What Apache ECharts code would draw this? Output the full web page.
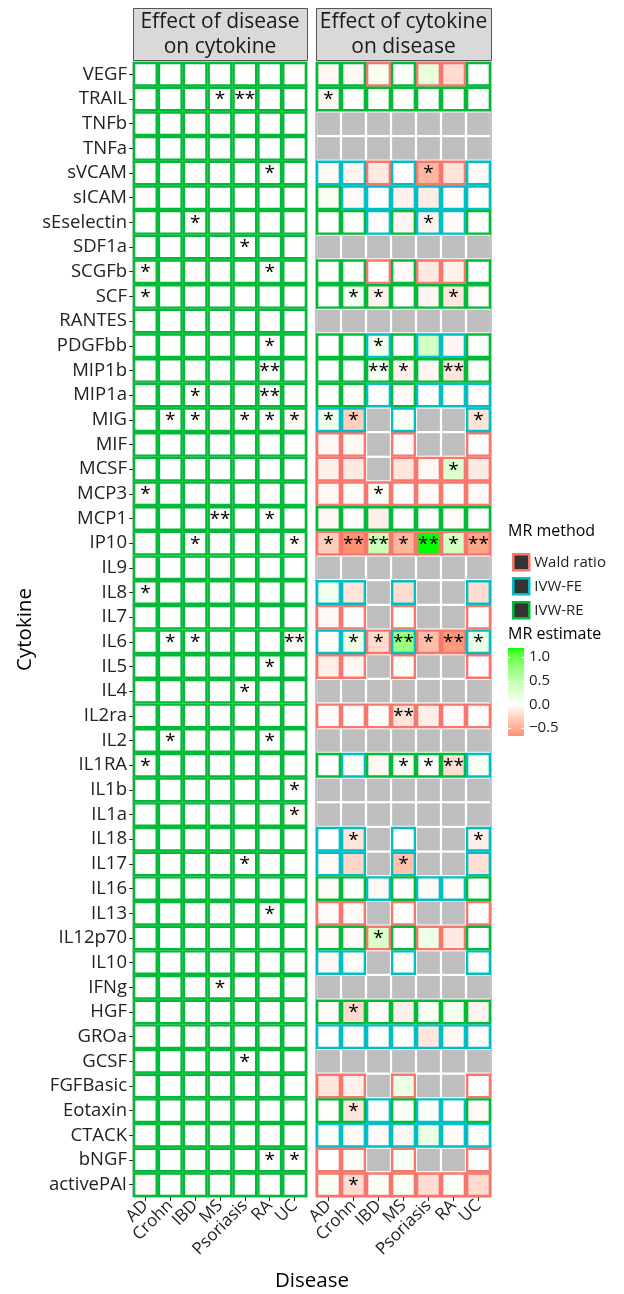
<!DOCTYPE html>
<html>
<head>
<meta charset="utf-8">
<script src="https://cdn.jsdelivr.net/npm/echarts@6/dist/echarts.min.js"></script>
<style>
  html, body { margin: 0; padding: 0; background: #ffffff; }
  #chart { width: 624px; height: 1294px; }
</style>
</head>
<body>
<div id="chart"></div>
<script>
// ---- Data ----------------------------------------------------------------
const diseases = ['AD', 'Crohn', 'IBD', 'MS', 'Psoriasis', 'RA', 'UC'];

const cytokines = ['VEGF', 'TRAIL', 'TNFb', 'TNFa', 'sVCAM', 'sICAM', 'sEselectin', 'SDF1a',
  'SCGFb', 'SCF', 'RANTES', 'PDGFbb', 'MIP1b', 'MIP1a', 'MIG', 'MIF', 'MCSF', 'MCP3', 'MCP1',
  'IP10', 'IL9', 'IL8', 'IL7', 'IL6', 'IL5', 'IL4', 'IL2ra', 'IL2', 'IL1RA', 'IL1b', 'IL1a',
  'IL18', 'IL17', 'IL16', 'IL13', 'IL12p70', 'IL10', 'IFNg', 'HGF', 'GROa', 'GCSF', 'FGFBasic',
  'Eotaxin', 'CTACK', 'bNGF', 'activePAI'];

const NA = null;

// Effect of disease on cytokine: MR estimates (rows = cytokines, columns = diseases)
const estDiseaseOnCytokine = [
  [0, 0, 0, 0, 0, 0, -0.02],
  [0, 0, 0, 0.01, -0.01, 0, 0],
  [0, 0.01, -0.02, -0.01, 0, 0, 0],
  [-0.01, 0, 0.01, 0, 0, 0, -0.02],
  [-0.01, 0, 0.01, 0, 0, 0.01, 0],
  [-0.02, -0.01, 0, 0, 0, 0, 0],
  [0, -0.01, 0.02, 0, 0, 0, -0.01],
  [0, -0.01, 0, 0, 0, 0, -0.01],
  [-0.04, 0, -0.02, 0.01, 0, 0.02, 0],
  [0.01, 0, 0.01, 0, 0.01, 0, 0],
  [0, 0.01, -0.01, -0.01, 0, -0.02, 0],
  [0, 0.01, 0, -0.01, 0, -0.01, -0.01],
  [-0.01, 0, 0.01, 0, 0, 0.02, 0],
  [-0.01, -0.01, 0.02, 0, 0, 0.02, -0.01],
  [0, -0.02, 0.02, -0.02, 0.01, 0.02, -0.04],
  [-0.01, 0, 0, 0, 0, 0, 0],
  [0, 0, 0, 0, 0, 0, 0],
  [-0.04, -0.01, 0, 0, 0, -0.02, 0],
  [0, 0, 0, 0.01, 0, 0.01, 0],
  [-0.01, -0.01, 0.01, 0, 0, 0, -0.03],
  [-0.01, 0, -0.01, -0.02, 0, 0, 0.01],
  [-0.02, 0, 0, 0, 0, 0, -0.01],
  [0.01, 0.01, 0.01, 0, 0, 0, -0.01],
  [0, -0.01, 0.02, 0, 0, 0, -0.04],
  [0, 0.01, 0.01, -0.01, 0, 0.02, 0],
  [-0.01, 0, 0, 0, 0, 0, -0.01],
  [0, 0.01, 0.01, 0, 0, 0.01, -0.01],
  [0, 0.01, -0.02, -0.01, 0, 0.01, 0.01],
  [-0.02, 0, 0, 0, 0, 0, 0],
  [0, 0, 0.01, -0.01, 0, 0, -0.02],
  [0, -0.01, 0, 0, 0, 0, -0.04],
  [0.01, 0, 0.01, -0.01, 0, 0, -0.01],
  [0, 0.01, 0, -0.01, -0.01, 0.01, 0],
  [0, 0.01, 0, 0, 0, 0, 0],
  [0, 0.01, 0, -0.01, 0, 0.02, 0],
  [0, 0, 0, 0, 0, 0, -0.01],
  [0, 0, 0, 0, 0, 0, -0.02],
  [0, 0, -0.01, -0.02, 0, 0.01, -0.01],
  [0, -0.01, 0, -0.01, 0, 0.01, 0],
  [-0.02, 0, 0.01, 0, 0, 0, 0],
  [0, 0, 0, 0, -0.01, 0, 0],
  [0, 0, 0, 0, 0, 0, 0],
  [0, 0, 0, -0.01, 0, 0, 0],
  [0, 0, 0, 0, 0, 0, 0],
  [0, 0, 0.01, -0.01, 0, -0.01, -0.02],
  [-0.03, 0, 0.01, 0, 0, 0, 0]
];

// Significance stars per cell: 0 = none, 1 = *, 2 = **
const sigDiseaseOnCytokine = [
  '0000000', '0001200', '0000000', '0000000', '0000010', '0000000', '0010000', '0000100',
  '1000010', '1000000', '0000000', '0000010', '0000020', '0010020', '0110111', '0000000',
  '0000000', '1000000', '0002010', '0010001', '0000000', '1000000', '0000000', '0110002',
  '0000010', '0000100', '0000000', '0100010', '1000000', '0000001', '0000001', '0000000',
  '0000100', '0000000', '0000010', '0000000', '0000000', '0001000', '0000000', '0000000',
  '0000100', '0000000', '0000000', '0000000', '0000011', '0000000'
];

// Effect of cytokine on disease: MR estimates (null = not estimated)
const estCytokineOnDisease = [
  [-0.05, -0.05, 0.08, 0.03, 0.2, -0.22, 0],
  [-0.05, 0, 0.04, 0.01, 0, -0.02, 0],
  [NA, NA, NA, NA, NA, NA, NA],
  [NA, NA, NA, NA, NA, NA, NA],
  [-0.04, -0.06, -0.13, 0, -0.45, -0.17, -0.03],
  [0.06, -0.03, 0, -0.08, -0.12, -0.03, 0],
  [0, 0.02, -0.02, -0.06, -0.08, -0.03, 0],
  [NA, NA, NA, NA, NA, NA, NA],
  [0.02, 0.03, 0, -0.03, -0.13, -0.08, 0],
  [0, 0.08, -0.09, 0, -0.06, -0.16, -0.02],
  [NA, NA, NA, NA, NA, NA, NA],
  [0.02, 0.03, 0.12, -0.02, 0.36, -0.06, 0.02],
  [0, 0.02, 0.08, -0.08, -0.06, -0.17, 0.03],
  [0, -0.02, 0, -0.03, 0, 0.03, -0.02],
  [0.12, -0.3, NA, 0.05, NA, NA, -0.18],
  [-0.04, -0.04, NA, -0.03, NA, NA, 0],
  [-0.1, -0.13, NA, -0.16, -0.05, 0.28, -0.13],
  [-0.05, -0.03, 0.04, 0, -0.03, 0.03, -0.03],
  [-0.05, -0.02, -0.1, -0.01, 0.02, -0.03, 0],
  [-0.3, -0.67, 0.42, -0.45, 1.19, 0.35, -0.55],
  [NA, NA, NA, NA, NA, NA, NA],
  [0.1, -0.17, NA, -0.22, NA, NA, -0.22],
  [-0.04, -0.02, NA, 0.02, NA, NA, 0],
  [0, 0.15, -0.22, 0.75, -0.4, -0.62, 0.15],
  [-0.1, -0.05, NA, 0.05, NA, NA, 0],
  [NA, NA, NA, NA, NA, NA, NA],
  [-0.02, 0, 0.03, -0.17, -0.11, -0.03, 0],
  [NA, NA, NA, NA, NA, NA, NA],
  [0, 0.05, -0.05, 0.08, 0, -0.2, 0.07],
  [NA, NA, NA, NA, NA, NA, NA],
  [NA, NA, NA, NA, NA, NA, NA],
  [0, -0.17, NA, -0.01, NA, NA, -0.11],
  [-0.03, -0.26, NA, -0.38, NA, NA, -0.2],
  [-0.03, 0.03, -0.05, -0.02, -0.03, -0.03, 0.03],
  [-0.03, -0.03, NA, 0.02, NA, NA, 0],
  [-0.03, -0.03, 0.32, 0, 0.14, -0.13, 0],
  [-0.05, -0.02, NA, 0.03, NA, NA, 0],
  [NA, NA, NA, NA, NA, NA, NA],
  [-0.03, -0.22, -0.02, -0.1, 0.08, 0.1, -0.07],
  [0, -0.02, 0.02, 0, -0.16, -0.05, -0.02],
  [NA, NA, NA, NA, NA, NA, NA],
  [-0.16, -0.08, NA, 0.15, NA, NA, 0],
  [0.03, -0.16, -0.02, 0.05, 0.03, -0.02, -0.03],
  [0.03, -0.03, -0.03, -0.05, 0.16, -0.03, 0],
  [0, 0.05, NA, 0.06, NA, NA, 0.03],
  [0.07, -0.22, 0.05, 0.07, -0.22, 0.04, -0.22]
];

// MR method per cell: W = Wald ratio, F = IVW-FE, R = IVW-RE, - = none
const methodCytokineOnDisease = [
  'RRWRWWR', 'RRRRRRR', '-------', '-------', 'FFWFWWF', 'RFFFFFF', 'RRFRFFR', '-------',
  'RRWRWWR', 'RRRRRRR', '-------', 'RRFRFFR', 'RRRRRRR', 'RRFRFFF', 'FF-F--F', 'WW-W--W',
  'WW-WWWW', 'WWWWWWW', 'RRRRRRR', 'WWWWWWW', '-------', 'FF-F--F', 'WW-W--W', 'FFWFWWF',
  'WW-W--W', '-------', 'WWWWWWW', '-------', 'RFRRRRF', '-------', '-------', 'FF-F--F',
  'FF-F--F', 'RRFRFFR', 'WW-W--W', 'RRWRWWR', 'FF-F--F', '-------', 'RRRRRRR', 'FFFFFFF',
  '-------', 'WW-W--W', 'RRFRFFR', 'FFFFFFF', 'WW-W--W', 'WWWWWWW'
];

const sigCytokineOnDisease = [
  '0000000', '1000000', '0000000', '0000000', '0000100', '0000000', '0000100', '0000000',
  '0000000', '0110010', '0000000', '0010000', '0021020', '0000000', '1100001', '0000000',
  '0000010', '0010000', '0000000', '1221212', '0000000', '0000000', '0000000', '0112121',
  '0000000', '0000000', '0002000', '0000000', '0001120', '0000000', '0000000', '0100001',
  '0001000', '0000000', '0000000', '0010000', '0000000', '0000000', '0100000', '0000000',
  '0000000', '0000000', '0100000', '0000000', '0000000', '0100000'
];

const panelTitles = ['Effect of disease\non cytokine', 'Effect of cytokine\non disease'];
const methodCodes = ['W', 'F', 'R'];
const methodNames = { W: 'Wald ratio', F: 'IVW-FE', R: 'IVW-RE' };
const estimateLimits = [-0.67, 1.19];
const estimateTicks = [1.0, 0.5, 0.0, -0.5];

// ---- Styling ---------------------------------------------------------------
const FONT = '"Open Sans", "Noto Sans", sans-serif';
const methodColors = { W: '#F8766D', F: '#00BFC4', R: '#00BA38' };
const NA_FILL = '#BEBEBE';
const LOW = [255, 0, 0], MID = [255, 255, 255], HIGH = [0, 255, 0];
const TILE = 0.91;
const BORDER_W = 2.4;

const PANEL_TOP = 62, PANEL_H = 1135;
const PANELS = [{ left: 133, width: 174 }, { left: 316, width: 175 }];

// Lab-space colour interpolation for the diverging estimate scale
function toLin(c) { c /= 255; return c <= 0.04045 ? c / 12.92 : Math.pow((c + 0.055) / 1.055, 2.4); }
function fromLin(v) {
  v = Math.max(0, Math.min(1, v));
  const s = v <= 0.0031308 ? 12.92 * v : 1.055 * Math.pow(v, 1 / 2.4) - 0.055;
  return Math.round(Math.max(0, Math.min(1, s)) * 255);
}
function rgb2lab(rgb) {
  const R = toLin(rgb[0]), G = toLin(rgb[1]), B = toLin(rgb[2]);
  const X = (0.4124 * R + 0.3576 * G + 0.1805 * B) / 0.95047;
  const Y = (0.2126 * R + 0.7152 * G + 0.0722 * B);
  const Z = (0.0193 * R + 0.1192 * G + 0.9505 * B) / 1.08883;
  const f = t => t > 0.008856 ? Math.cbrt(t) : 7.787 * t + 16 / 116;
  const fx = f(X), fy = f(Y), fz = f(Z);
  return [116 * fy - 16, 500 * (fx - fy), 200 * (fy - fz)];
}
function lab2rgb(lab) {
  const fy = (lab[0] + 16) / 116, fx = fy + lab[1] / 500, fz = fy - lab[2] / 200;
  const fi = t => t > 0.206893 ? t * t * t : (t - 16 / 116) / 7.787;
  const X = fi(fx) * 0.95047, Y = fi(fy), Z = fi(fz) * 1.08883;
  const R = 3.2406 * X - 1.5372 * Y - 0.4986 * Z;
  const G = -0.9689 * X + 1.8758 * Y + 0.0415 * Z;
  const B = 0.0557 * X - 0.2040 * Y + 1.0570 * Z;
  return 'rgb(' + fromLin(R) + ',' + fromLin(G) + ',' + fromLin(B) + ')';
}
const LAB_LOW = rgb2lab(LOW), LAB_MID = rgb2lab(MID), LAB_HIGH = rgb2lab(HIGH);
const EXTENT = Math.max(Math.abs(estimateLimits[0]), Math.abs(estimateLimits[1]));
function estimateColor(v) {
  const t = Math.min(1, Math.abs(v) / EXTENT);
  const end = v >= 0 ? LAB_HIGH : LAB_LOW;
  return lab2rgb([0, 1, 2].map(i => LAB_MID[i] + (end[i] - LAB_MID[i]) * t));
}

// ---- Series builders -------------------------------------------------------
function tileRenderer(border) {
  return function (params, api) {
    const c = api.coord([api.value(0), api.value(1)]);
    const sz = api.size([1, 1]);
    const w = sz[0] * TILE, h = sz[1] * TILE;
    const v = api.value(2);
    const stars = api.value(3);
    const children = [{
      type: 'rect',
      shape: { x: c[0] - w / 2, y: c[1] - h / 2, width: w, height: h },
      style: border
        ? { fill: estimateColor(v), stroke: border, lineWidth: BORDER_W }
        : { fill: NA_FILL, stroke: null }
    }];
    if (stars > 0) {
      children.push({
        type: 'text',
        x: c[0], y: c[1] + 1,
        style: { text: '*'.repeat(stars), fontSize: 19, fontFamily: FONT, fill: '#000',
                 align: 'center', verticalAlign: 'middle' }
      });
    }
    return { type: 'group', children: children };
  };
}

function cellItems(est, sig, methods, code) {
  const out = [];
  est.forEach((row, yi) => {
    row.forEach((v, xi) => {
      const m = methods ? methods[yi][xi] : 'R';
      if (code === '-' ? (v === null) : (v !== null && m === code)) {
        out.push([xi, yi, v === null ? 0 : v, Number(sig[yi][xi])]);
      }
    });
  });
  return out;
}

const series = [];
// Left panel: every estimate comes from IVW-RE
series.push({
  name: methodNames.R, type: 'custom', xAxisIndex: 0, yAxisIndex: 0,
  renderItem: tileRenderer(methodColors.R),
  data: cellItems(estDiseaseOnCytokine, sigDiseaseOnCytokine, null, 'R'),
  encode: { x: 0, y: 1 }, silent: true
});
// Right panel
series.push({
  name: 'NA', type: 'custom', xAxisIndex: 1, yAxisIndex: 1,
  renderItem: tileRenderer(null),
  data: cellItems(estCytokineOnDisease, sigCytokineOnDisease, methodCytokineOnDisease, '-'),
  encode: { x: 0, y: 1 }, silent: true
});
methodCodes.forEach(code => {
  series.push({
    name: methodNames[code], type: 'custom', xAxisIndex: 1, yAxisIndex: 1,
    renderItem: tileRenderer(methodColors[code]),
    data: cellItems(estCytokineOnDisease, sigCytokineOnDisease, methodCytokineOnDisease, code),
    encode: { x: 0, y: 1 }, silent: true
  });
});

// Colour bar for the estimate scale
const BAR = { left: 508, top: 648, width: 16, height: 88 };
series.push({
  name: 'MR estimate', type: 'custom', xAxisIndex: 2, yAxisIndex: 2, silent: true,
  data: [[0, estimateLimits[0]]],
  renderItem: function (params, api) {
    const cs = params.coordSys;
    const stops = [];
    for (let k = 0; k <= 40; k++) {
      const v = estimateLimits[0] + (estimateLimits[1] - estimateLimits[0]) * k / 40;
      stops.push({ offset: 1 - k / 40, color: estimateColor(v) });
    }
    const children = [{
      type: 'rect',
      shape: { x: cs.x, y: cs.y, width: cs.width, height: cs.height },
      style: { fill: new echarts.graphic.LinearGradient(0, 0, 0, 1, stops) }
    }];
    estimateTicks.forEach(t => {
      const y = Math.round(api.coord([0, t])[1]) + 0.5;
      children.push({ type: 'line', shape: { x1: cs.x, y1: y, x2: cs.x + cs.width * 0.2, y2: y },
                      style: { stroke: '#fff', lineWidth: 1 } });
      children.push({ type: 'line', shape: { x1: cs.x + cs.width * 0.8, y1: y, x2: cs.x + cs.width, y2: y },
                      style: { stroke: '#fff', lineWidth: 1 } });
    });
    return { type: 'group', children: children };
  }
});

// ---- Axes ------------------------------------------------------------------
const grids = PANELS.map(p => ({
  left: p.left, top: PANEL_TOP, width: p.width, height: PANEL_H,
  show: true, borderColor: '#8a8a8a', borderWidth: 1, backgroundColor: '#fff'
}));
grids.push({ left: BAR.left, top: BAR.top, width: BAR.width, height: BAR.height, show: false });

const xAxes = PANELS.map((p, i) => ({
  type: 'category', gridIndex: i, data: diseases,
  axisLine: { show: false },
  axisTick: { show: true, alignWithLabel: true, length: 4, interval: 0, lineStyle: { color: '#333' } },
  axisLabel: { interval: 0, rotate: 45, margin: 6, fontSize: 17, color: '#222', fontFamily: FONT },
  splitLine: { show: false }
}));
xAxes.push({ type: 'category', gridIndex: 2, data: ['bar'], show: false });

const yAxes = PANELS.map((p, i) => ({
  type: 'category', gridIndex: i, data: cytokines, inverse: true,
  axisLine: { show: false },
  axisTick: { show: i === 0, alignWithLabel: true, length: 4, interval: 0, lineStyle: { color: '#333' } },
  axisLabel: { show: i === 0, interval: 0, margin: 6, fontSize: 18.5, color: '#222', fontFamily: FONT },
  splitLine: { show: false }
}));
yAxes.push({
  type: 'value', gridIndex: 2, position: 'right',
  min: estimateLimits[0], max: estimateLimits[1],
  axisLine: { show: false }, axisTick: { show: false }, splitLine: { show: false },
  axisLabel: {
    show: true, customValues: estimateTicks, margin: 5, fontSize: 15, color: '#222', fontFamily: FONT,
    formatter: v => (v < 0 ? '\u2212' : '') + Math.abs(v).toFixed(1)
  }
});

// ---- Strips, titles --------------------------------------------------------
const graphics = [];
PANELS.forEach((p, i) => {
  graphics.push({
    type: 'rect', silent: true,
    shape: { x: p.left + 0.5, y: 8.5, width: p.width, height: 52 },
    style: { fill: '#D9D9D9', stroke: '#555', lineWidth: 1 }
  });
  graphics.push({
    type: 'text', silent: true, x: p.left + p.width / 2, y: 35,
    style: { text: panelTitles[i], fontSize: 21, fontFamily: FONT, fill: '#1A1A1A',
             align: 'center', verticalAlign: 'middle', lineHeight: 25 }
  });
});
graphics.push({
  type: 'text', silent: true, x: 25, y: PANEL_TOP + PANEL_H / 2, rotation: Math.PI / 2,
  style: { text: 'Cytokine', fontSize: 20.5, fontFamily: FONT, fill: '#000', align: 'center', verticalAlign: 'middle' }
});
graphics.push({
  type: 'text', silent: true, x: (PANELS[0].left + PANELS[1].left + PANELS[1].width) / 2, y: 1281,
  style: { text: 'Disease', fontSize: 20.5, fontFamily: FONT, fill: '#000', align: 'center', verticalAlign: 'middle' }
});
graphics.push({
  type: 'text', silent: true, x: 508, y: 531,
  style: { text: 'MR method', fontSize: 16, fontFamily: FONT, fill: '#000', align: 'left', verticalAlign: 'middle' }
});
graphics.push({
  type: 'text', silent: true, x: 508, y: 634,
  style: { text: 'MR estimate', fontSize: 16, fontFamily: FONT, fill: '#000', align: 'left', verticalAlign: 'middle' }
});

// ---- Chart -----------------------------------------------------------------
const chart = echarts.init(document.getElementById('chart'), null, { renderer: 'canvas' });
chart.setOption({
  animation: false,
  backgroundColor: '#ffffff',
  textStyle: { fontFamily: FONT },
  grid: grids,
  xAxis: xAxes,
  yAxis: yAxes,
  legend: {
    orient: 'vertical', left: 507, top: 548, itemWidth: 16, itemHeight: 16, itemGap: 5.5,
    icon: 'rect', selectedMode: false,
    textStyle: { fontSize: 15, color: '#222', fontFamily: FONT },
    data: methodCodes.map(c => ({
      name: methodNames[c],
      itemStyle: { color: '#333333', borderColor: methodColors[c], borderWidth: 2.5 }
    }))
  },
  graphic: graphics,
  series: series
});
</script>
</body>
</html>
